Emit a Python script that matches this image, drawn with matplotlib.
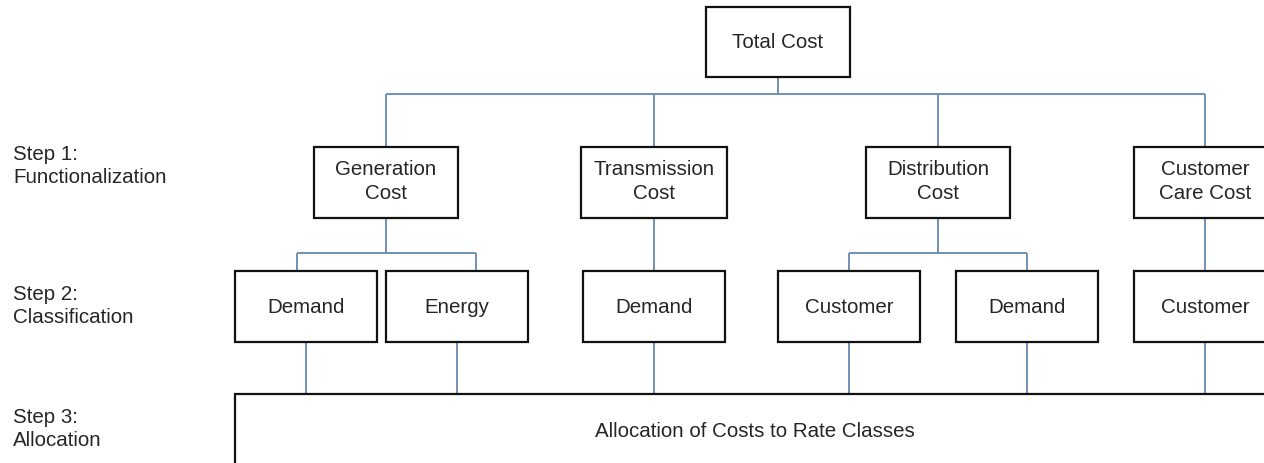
import matplotlib
matplotlib.use("Agg")
import matplotlib.pyplot as plt
from matplotlib.patches import Rectangle

plt.rcParams['font.family'] = ['Liberation Sans', 'DejaVu Sans']

# ---- content ----
root_label = "Total Cost"
step_labels = ["Step 1:\nFunctionalization", "Step 2:\nClassification", "Step 3:\nAllocation"]
function_labels = ["Generation\nCost", "Transmission\nCost", "Distribution\nCost", "Customer\nCare Cost"]
class_labels = ["Demand", "Energy", "Demand", "Customer", "Demand", "Customer"]
allocation_label = "Allocation of Costs to Rate Classes"

# ---- layout (pixel coordinates) ----
W, H = 1264, 464
fig = plt.figure(figsize=(W / 100, H / 100), dpi=100)
ax = fig.add_axes([0, 0, 1, 1])
ax.set_xlim(0, W)
ax.set_ylim(H, 0)
ax.axis('off')

BOX_EC = '#111111'
LINE_C = '#7090b8'
TXT_C = '#262626'
FS = 14.8

def box(x0, y0, x1, y1, text, dy=0):
    r = Rectangle((x0, y0), x1 - x0, y1 - y0, facecolor='white', edgecolor=BOX_EC, lw=1.6, zorder=3)
    ax.add_patch(r)
    if text:
        ax.text((x0 + x1) / 2, (y0 + y1) / 2 + dy, text, ha='center', va='center',
                fontsize=FS, color=TXT_C, zorder=4, linespacing=1.3)

def line(xs, ys):
    ax.plot(xs, ys, color=LINE_C, lw=1.4, zorder=2, solid_capstyle='butt')

# root
root = (706, 8, 850, 78)
box(*root, root_label)

# level 1
f_centers = [386, 654, 938, 1205]
f_half = [72, 73, 72, 71]
f_y = (148, 219)
bus_y = 95
line([778, 778], [root[3], bus_y])
line([f_centers[0], f_centers[-1]], [bus_y, bus_y])
for c, hw, lab in zip(f_centers, f_half, function_labels):
    line([c, c], [bus_y, f_y[0]])
    box(c - hw, f_y[0], c + hw, f_y[1], lab, dy=-2)

# level 2
c_centers = [306, 457, 654, 849, 1027, 1205]
c_half = 71
c_y = (272, 343)
sub_bus_y = 254
split = {0: (297, 476), 2: (849, 1027)}
for i, c in enumerate(f_centers):
    if i in split:
        a, b = split[i]
        line([c, c], [f_y[1], sub_bus_y])
        line([a, b], [sub_bus_y, sub_bus_y])
        line([a, a], [sub_bus_y, c_y[0]])
        line([b, b], [sub_bus_y, c_y[0]])
    else:
        line([c, c], [f_y[1], c_y[0]])
for c, lab in zip(c_centers, class_labels):
    box(c - c_half, c_y[0], c + c_half, c_y[1], lab)

# level 3
alloc_top = 395
for c in c_centers:
    line([c, c], [c_y[1], alloc_top])
box(235, alloc_top, 1290, 500, None)
ax.text(755, 432, allocation_label, ha='center', va='center', fontsize=FS, color=TXT_C, zorder=4)

# step labels
for lab, y in zip(step_labels, [166, 306, 429]):
    ax.text(13, y, lab, ha='left', va='center', fontsize=FS, color=TXT_C, linespacing=1.25)

fig.savefig("out.png", dpi=100)
